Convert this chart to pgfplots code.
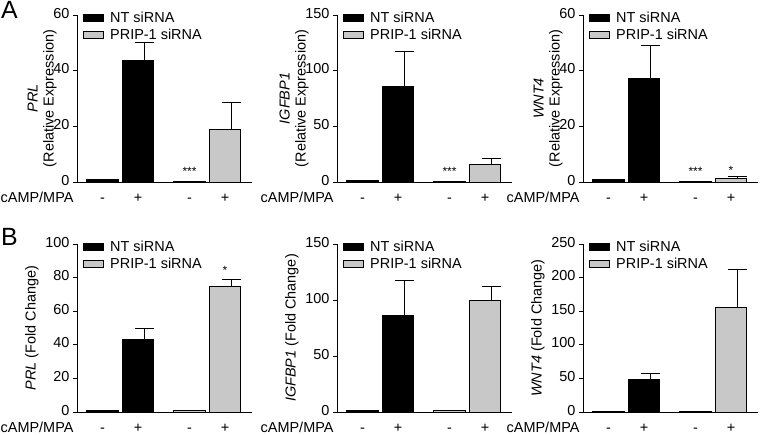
\documentclass[border=0pt]{standalone}
\usepackage{pgfplots}
\pgfplotsset{compat=1.18}
\usepackage{fontspec}
\setmainfont{Liberation Sans}
\newcommand\fs{\fontsize{14.5}{16}\selectfont}
\definecolor{barg}{RGB}{200,200,200}
\pgfplotsset{
 panel/.style={
  scale only axis, width=175bp, height=167bp,
  xmin=-0.72, xmax=4.21, ymin=0,
  axis x line*=bottom, axis y line*=left,
  axis line style={-, line width=0.9bp, black},
  xtick={0,1,2.45,3.45}, xticklabels={-,+,-,+},
  extra x ticks={-0.72}, extra x tick labels={cAMP/MPA},
  extra x tick style={tick label style={anchor=north east, xshift=0bp}},
  xtick style={draw=none},
  ytick style={line width=0.9bp, black},
  tick align=outside, major tick length=4bp,
  typeset ticklabels with strut,
  /pgf/number format/assume math mode=true,
  tick label style={font=\fs, black},
  xticklabel style={yshift=-2bp},
  label style={font=\fs},
  ylabel style={align=center},
  legend style={at={(0.035,1.03)}, anchor=north west, draw=none, fill=none,
    font=\fs, inner sep=0pt, row sep=0.5bp,
    /tikz/every odd column/.append style={column sep=4bp}},
  legend cell align=left,
  legend image code/.code={\draw[##1, line width=0.9bp] (0bp,-3.5bp) rectangle (20bp,3.5bp);},
  clip=false,
 },
 rowA/.style={ylabel shift=-10bp},
 barNT/.style={ybar, bar width=0.88, bar shift=0pt, fill=black, draw=black, line width=0.9bp},
 barPR/.style={ybar, bar width=0.88, bar shift=0pt, fill=barg, draw=black, line width=0.9bp},
 eb/.style={forget plot, draw=none, mark=none,
   error bars/.cd, y dir=plus, y explicit,
   error bar style={draw=black, line width=0.9bp},
   error mark options={rotate=90, draw=black, line width=0.9bp, mark size=9.5bp}},
}
\begin{document}
\begin{tikzpicture}
\useasboundingbox (0,0) rectangle (762bp,435bp);
\node[anchor=north west, inner sep=0pt, font=\fontsize{25}{28}\selectfont] at (1bp,434bp) {A};
\node[anchor=north west, inner sep=0pt, font=\fontsize{25}{28}\selectfont] at (1bp,207bp) {B};

% ---------- A1 PRL ----------
\begin{axis}[panel, rowA, at={(77bp,253bp)}, ymax=60, ytick={0,20,40,60},
  ylabel={\textit{PRL}\\(Relative Expression)}]
\addplot[barNT] coordinates {(0,1.0) (1,43.5)};
\addlegendentry{NT siRNA}
\addplot[barPR] coordinates {(2.45,0.25) (3.45,18.7)};
\addlegendentry{PRIP-1 siRNA}
\addplot[eb] coordinates {(1.17,43.5) +- (0,6.6) (3.62,18.7) +- (0,9.9)};
\node[anchor=base, font=\fontsize{12}{14}\selectfont] at (axis cs:2.45,0) [yshift=6bp] {***};
\end{axis}

% ---------- A2 IGFBP1 ----------
\begin{axis}[panel, rowA, at={(337bp,253bp)}, ymax=150, ytick={0,50,100,150},
  ylabel={\textit{IGFBP1}\\(Relative Expression)}]
\addplot[barNT] coordinates {(0,1.0) (1,85.6)};
\addlegendentry{NT siRNA}
\addplot[barPR] coordinates {(2.45,0.3) (3.45,15.6)};
\addlegendentry{PRIP-1 siRNA}
\addplot[eb] coordinates {(1.17,85.6) +- (0,32.0) (3.62,15.6) +- (0,5.1)};
\node[anchor=base, font=\fontsize{12}{14}\selectfont] at (axis cs:2.45,0) [yshift=6bp] {***};
\end{axis}

% ---------- A3 WNT4 ----------
\begin{axis}[panel, rowA, at={(583bp,253bp)}, ymax=60, ytick={0,20,40,60},
  ylabel={\textit{WNT4}\\(Relative Expression)}]
\addplot[barNT] coordinates {(0,1.0) (1,37.1)};
\addlegendentry{NT siRNA}
\addplot[barPR] coordinates {(2.45,0.05) (3.45,1.4)};
\addlegendentry{PRIP-1 siRNA}
\addplot[eb] coordinates {(1.17,37.1) +- (0,11.8) (3.62,1.4) +- (0,0.5)};
\node[anchor=base, font=\fontsize{12}{14}\selectfont] at (axis cs:2.45,0) [yshift=6bp] {***};
\node[anchor=base, font=\fontsize{12}{14}\selectfont] at (axis cs:3.45,1.9) [yshift=2bp] {*};
\end{axis}

% ---------- B1 PRL ----------
\begin{axis}[panel, at={(77bp,23bp)}, height=168bp, ymax=100, ytick={0,20,40,60,80,100},
  ylabel={\textit{PRL} (Fold Change)}]
\addplot[barNT] coordinates {(0,1.0) (1,42.9)};
\addlegendentry{NT siRNA}
\addplot[barPR] coordinates {(2.45,1.0) (3.45,75.0)};
\addlegendentry{PRIP-1 siRNA}
\addplot[eb] coordinates {(1.17,42.9) +- (0,6.9) (3.62,75.0) +- (0,4.0)};
\node[anchor=base, font=\fontsize{12}{14}\selectfont] at (axis cs:3.45,79) [yshift=5bp] {*};
\end{axis}

% ---------- B2 IGFBP1 ----------
\begin{axis}[panel, at={(337bp,23bp)}, height=168bp, ymax=150, ytick={0,50,100,150},
  ylabel={\textit{IGFBP1} (Fold Change)}]
\addplot[barNT] coordinates {(0,1.0) (1,86.0)};
\addlegendentry{NT siRNA}
\addplot[barPR] coordinates {(2.45,1.0) (3.45,99.7)};
\addlegendentry{PRIP-1 siRNA}
\addplot[eb] coordinates {(1.17,86.0) +- (0,31.2) (3.62,99.7) +- (0,12.8)};
\end{axis}

% ---------- B3 WNT4 ----------
\begin{axis}[panel, at={(583bp,23bp)}, height=168bp, ymax=250, ytick={0,50,100,150,200,250},
  ylabel={\textit{WNT4} (Fold Change)}]
\addplot[barNT] coordinates {(0,1.0) (1,48.6)};
\addlegendentry{NT siRNA}
\addplot[barPR] coordinates {(2.45,1.0) (3.45,155.0)};
\addlegendentry{PRIP-1 siRNA}
\addplot[eb] coordinates {(1.17,48.6) +- (0,8.4) (3.62,155.0) +- (0,56.8)};
\end{axis}
\end{tikzpicture}
\end{document}
